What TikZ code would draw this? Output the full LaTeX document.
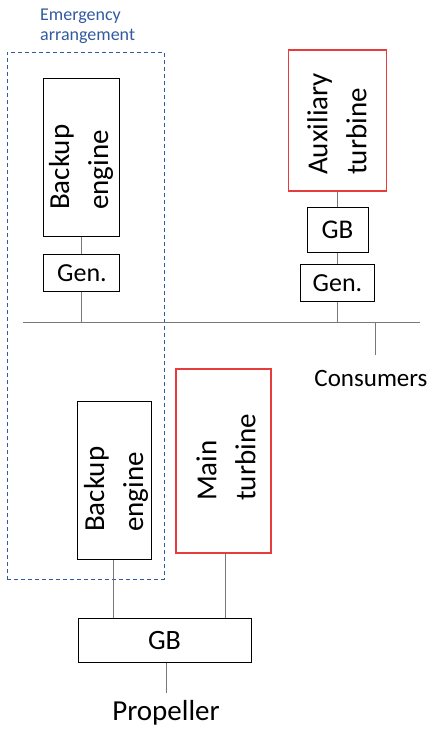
\documentclass[tikz,border=0pt]{standalone}
\usepackage{fontspec}
\setmainfont{Carlito}
\definecolor{boxred}{RGB}{230,60,60}
\definecolor{dashblue}{RGB}{50,90,160}
\definecolor{linegray}{RGB}{120,120,120}
\begin{document}
\begin{tikzpicture}[x=1pt,y=-1pt,
  box/.style={draw=black, line width=1pt, rectangle, inner sep=0pt},
  redbox/.style={draw=boxred, line width=1.1pt, rectangle, inner sep=0pt},
  conn/.style={draw=linegray, line width=1pt},
  biglabel/.style={rotate=90, anchor=west, align=left, inner sep=0pt, font=\fontsize{29}{39}\selectfont},
  smalllabel/.style={inner sep=0pt, font=\fontsize{26}{30}\selectfont}]
\useasboundingbox (0,0) rectangle (433,729);

% emergency arrangement frame
\node[draw=dashblue, dash pattern=on 4pt off 3pt, line width=1pt, rectangle, inner sep=0pt,
      minimum width=157pt, minimum height=527pt] (emer) at (85.5,315.5) {};
\node[anchor=west, align=left, inner sep=0pt, text=dashblue, font=\fontsize{18}{20}\selectfont] (emertxt) at (40,26) {Emergency\\arrangement};

% upper backup engine + generator
\node[box, minimum width=76pt, minimum height=158pt] (be1) at (81,157) {};
\node[biglabel] (be1t) at (81,210) {Backup\\engine};
\node[box, minimum width=76pt, minimum height=37pt] (gen1) at (81,272.5) {};
\node[smalllabel] (gen1t) at (82,273) {Gen.};

% auxiliary turbine, gearbox, generator
\node[redbox, minimum width=98pt, minimum height=141pt] (aux) at (337.5,120.5) {};
\node[biglabel] (auxt) at (337,175) {Auxiliary\\turbine};
\node[box, minimum width=61pt, minimum height=45pt] (gb1) at (337.5,229.5) {};
\node[smalllabel, font=\fontsize{27}{30}\selectfont] (gb1t) at (337.5,230) {GB};
\node[box, minimum width=74pt, minimum height=37pt] (gen2) at (337.5,282.5) {};
\node[smalllabel] (gen2t) at (337.5,283) {Gen.};

% bus bar
\coordinate (busL) at (23,322);
\coordinate (busR) at (420,322);
\coordinate (tap) at (375,322);
\coordinate (consTop) at (375,355);
\node[inner sep=0pt, font=\fontsize{25}{30}\selectfont] (cons) at (371,378) {Consumers};

% lower backup engine, main turbine, gearbox
\node[box, minimum width=74pt, minimum height=158pt] (be2) at (114,480) {};
\node[biglabel] (be2t) at (116,532) {Backup\\engine};
\node[redbox, minimum width=95pt, minimum height=184pt] (main) at (223.5,461) {};
\node[biglabel] (maint) at (226,501) {Main\\turbine};
\node[box, minimum width=173pt, minimum height=44pt] (gb2) at (164.5,640) {};
\node[smalllabel, font=\fontsize{28}{30}\selectfont] (gb2t) at (164.5,641) {GB};
\node[inner sep=0pt, font=\fontsize{29}{32}\selectfont] (prop) at (166,713) {Propeller};
\coordinate (propTop) at (166,693);

% connectors
\draw[conn] (busL) -- (busR);
\draw[conn] (be1.south) -- (gen1.north);
\draw[conn] (gen1.south) -- (gen1.south |- busL);
\draw[conn] (aux.south) -- (gb1.north);
\draw[conn] (gb1.south) -- (gen2.north);
\draw[conn] (gen2.south) -- (gen2.south |- busL);
\draw[conn] (tap) -- (consTop);
\draw[conn] ([xshift=-1pt]be2.south) -- ([xshift=-1pt]be2.south |- gb2.north);
\draw[conn] ([xshift=2pt]main.south) -- ([xshift=2pt]main.south |- gb2.north);
\draw[conn] ([xshift=1.5pt]gb2.south) -- (propTop);
\end{tikzpicture}
\end{document}
